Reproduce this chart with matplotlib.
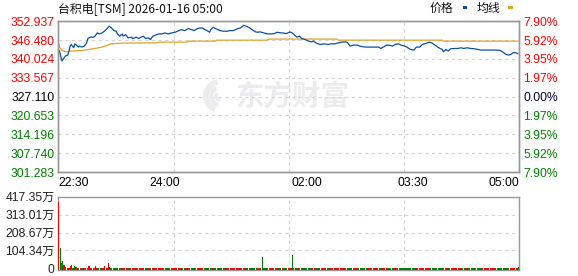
import matplotlib
matplotlib.use('Agg')
import matplotlib.pyplot as plt
from matplotlib.patches import Rectangle, Wedge
import numpy as np

plt.rcParams['font.family'] = ['Liberation Sans', 'Noto Sans CJK SC']

# minutes after 22:30 and the price read at that minute
price_min = [0, 1, 2, 3, 5, 6, 8, 9, 10, 11,
             13, 14, 16, 17, 18, 20, 22, 24, 25, 27,
             30, 31, 33, 35, 37, 39, 41, 43, 45, 47,
             49, 50, 52, 54, 55, 57, 59, 62, 63, 66,
             68, 70, 72, 74, 76, 78, 80, 82, 85, 88,
             90, 93, 96, 99, 102, 104, 107, 110, 113, 115,
             117, 120, 122, 124, 126, 128, 129, 131, 133, 135,
             137, 140, 143, 145, 148, 150, 152, 154, 157, 159,
             161, 164, 167, 168, 171, 174, 177, 180, 183, 185,
             188, 190, 193, 196, 198, 200, 202, 204, 206, 209,
             212, 214, 216, 218, 220, 222, 225, 228, 231, 234,
             237, 240, 243, 245, 247, 250, 253, 255, 258, 261,
             265, 268, 271, 273, 275, 278, 281, 283, 285, 288,
             290, 293, 295, 298, 301, 303, 306, 308, 311, 314,
             316, 318, 320, 323, 325, 326, 328, 330, 332, 335,
             338, 341, 343, 346, 349, 352, 355, 358, 362, 365,
             369, 371, 374, 377, 379, 381, 383, 385, 387, 389]
price_val = [343.29, 342.74, 341.04, 339.35, 340.47, 341.04, 341.38, 342.74, 344.44, 344.99,
             343.86, 345.22, 344.44, 344.10, 344.44, 344.10, 344.44, 345.56, 347.02, 347.50,
             347.50, 347.84, 348.96, 348.62, 348.96, 349.54, 350.32, 351.24, 350.66, 349.74,
             349.54, 348.62, 347.84, 348.62, 347.84, 348.38, 347.26, 347.50, 347.02, 347.50,
             347.02, 347.50, 347.84, 347.02, 347.26, 346.68, 347.84, 348.18, 348.62, 348.62,
             348.96, 348.62, 348.96, 349.20, 349.74, 350.08, 349.74, 350.42, 350.08, 349.74,
             350.32, 350.66, 350.66, 350.08, 349.74, 349.20, 350.08, 350.90, 350.42, 350.08,
             349.74, 349.54, 349.54, 349.74, 349.74, 350.08, 350.42, 350.66, 351.58, 351.24,
             350.90, 350.08, 349.30, 349.20, 349.30, 348.96, 348.62, 348.62, 348.72, 349.20,
             348.96, 348.96, 348.72, 349.30, 348.96, 348.18, 347.50, 347.84, 347.02, 346.68,
             346.14, 345.90, 346.14, 345.56, 345.22, 344.99, 345.22, 344.99, 345.22, 345.22,
             345.56, 345.80, 345.90, 345.56, 344.44, 344.78, 344.78, 344.44, 344.21, 344.10,
             344.10, 344.10, 344.10, 343.63, 344.10, 344.78, 344.65, 344.44, 344.99, 345.22,
             344.78, 344.44, 344.10, 343.29, 343.08, 344.10, 344.10, 344.99, 345.33, 345.80,
             345.56, 344.99, 344.44, 343.63, 343.29, 342.51, 343.29, 342.74, 343.53, 343.63,
             343.63, 343.86, 343.63, 343.86, 343.63, 343.53, 343.29, 343.08, 343.08, 343.08,
             343.08, 343.08, 342.95, 342.17, 341.59, 341.38, 341.59, 342.17, 342.17, 341.83]

# average price line
avg_min = [0, 1, 3, 6, 8, 11, 20, 25, 31, 37, 42, 45, 54,
           82, 86, 109, 110, 133, 134, 177, 178, 236, 237, 325, 326, 389]
avg_val = [345.90, 344.10, 342.95, 342.51, 342.51, 342.74, 342.95, 343.19, 343.63, 344.10, 344.78, 345.22, 345.46,
           345.56, 345.80, 345.80, 346.14, 346.14, 346.48, 346.48, 346.85, 346.85, 346.48, 346.48, 346.14, 346.14]

price_ticks = [352.937, 346.480, 340.024, 333.567, 327.110, 320.653, 314.196, 307.740, 301.283]
price_labels = ['352.937', '346.480', '340.024', '333.567', '327.110', '320.653', '314.196', '307.740', '301.283']
pct_labels = ['7.90%', '5.92%', '3.95%', '1.97%', '0.00%', '1.97%', '3.95%', '5.92%', '7.90%']
time_pos = [0, 90, 210, 300, 390]
time_labels = ['22:30', '24:00', '02:00', '03:30', '05:00']
vol_ticks = [0, 104.34, 208.67, 313.01, 417.35]
vol_labels = ['0', '104.34万', '208.67万', '313.01万', '417.35万']

# volume (万) - the visible spikes, everything else is a thin base
spike_min = [0, 1, 2, 3, 4, 5, 6, 10, 11, 13, 14, 15, 25, 26, 31, 39, 42, 43, 172, 198, 389]
spike_vol = [386, 119, 29, 42, 19, 19, 9, 13, 19, 15, 9, 9, 13, 13, 13, 13, 29, 9, 64, 77, 10]
spike_up = [1, 0, 0, 0, 1, 1, 0, 1, 1, 0, 1, 1, 1, 1, 1, 1, 1, 1, 0, 0, 0]
base_vol = 1.0

RED = '#ff0000'
GREEN = '#008000'
BLUE = '#0b4fa3'
GOLD = '#e0a526'
GRID = '#d4d4d4'
EDGE = '#999999'
MARK = '#ececee'

fig = plt.figure(figsize=(5.78, 2.76), dpi=100, facecolor='white')
ax = fig.add_axes([0.1009, 0.3768, 0.7972, 0.546])
axv = fig.add_axes([0.1009, 0.0217, 0.7972, 0.2656])

# watermark: rough logo swoosh + name (inches, so arcs stay round)
for r0, w, t1, t2 in [(0.17, 0.055, 100, 250), (0.11, 0.045, 115, 260), (0.055, 0.035, 130, 280)]:
    fig.patches.append(Wedge((2.20, 2.76 - 0.96), r0, t1, t2, width=w,
                             transform=fig.dpi_scale_trans, color=MARK, lw=0, zorder=0))
ax.text(0.507, 0.50, '东方财富', transform=ax.transAxes, ha='center', va='center',
        fontsize=20.5, fontweight='bold', color=MARK, family=['Noto Sans CJK SC'], zorder=0)

ax.plot(price_min, price_val, color=BLUE, lw=0.9, zorder=3)
ax.plot(avg_min, avg_val, color=GOLD, lw=0.9, zorder=2)

ax.set_xlim(0, 390)
ax.set_ylim(price_ticks[-1], price_ticks[0])
ax.patch.set_alpha(0)
for y in price_ticks[1:-1]:
    ax.axhline(y, color=GRID, lw=0.8, ls=(0, (3, 3)), zorder=1)
for x in [97.5, 195, 292.5]:
    ax.axvline(x, color=GRID, lw=0.8, ls=(0, (3, 3)), zorder=1)
    axv.axvline(x, color=GRID, lw=0.8, ls=(0, (3, 3)), zorder=1)

ax.set_yticks(price_ticks)
ax.set_yticklabels(price_labels)
ax.set_xticks(time_pos)
ax.set_xticklabels(time_labels)
ax.tick_params(axis='y', length=0, pad=2.5, labelsize=8.7)
ax.tick_params(axis='x', length=0, pad=3.5, labelsize=8.7)
xl = ax.get_xticklabels()
xl[0].set_ha('left')
xl[-1].set_ha('right')
mid = len(price_ticks) // 2
for i, lab in enumerate(ax.get_yticklabels()):
    lab.set_color(RED if i < mid else ('#000000' if i == mid else GREEN))

axr = ax.twinx()
axr.set_ylim(ax.get_ylim())
axr.set_yticks(price_ticks)
axr.set_yticklabels(pct_labels)
axr.tick_params(axis='y', length=0, pad=3, labelsize=8.7)
for i, lab in enumerate(axr.get_yticklabels()):
    lab.set_color(RED if i < mid else ('#000033' if i == mid else GREEN))

for a in (ax, axr, axv):
    for s in a.spines.values():
        s.set_color(EDGE)
        s.set_linewidth(1.0)

# volume bars
vol = np.full(391, base_vol)
up = np.zeros(391, dtype=bool)
minutes = np.arange(391)
seg = np.clip(np.searchsorted(price_min, minutes), 1, len(price_min) - 1)
pv = np.array(price_val)
up[:] = pv[seg] >= pv[seg - 1]
for m, v, u in zip(spike_min, spike_vol, spike_up):
    vol[m] = v
    up[m] = bool(u)
floor = -10
colors = [RED if u else GREEN for u in up]
axv.bar(minutes, vol - floor, bottom=floor, width=0.85, align='edge', color=colors, lw=0, zorder=3)
axv.set_xlim(0, 390)
axv.set_ylim(floor, vol_ticks[-1])
for y in vol_ticks[1:-1]:
    axv.axhline(y, color=GRID, lw=0.8, ls=(0, (3, 3)), zorder=1)
axv.set_yticks(vol_ticks)
axv.set_yticklabels(vol_labels)
axv.set_xticks([])
axv.tick_params(axis='y', length=0, pad=2.5, labelsize=8.7, labelcolor='#222222')

# title and legend
fig.text(58 / 578, 1 - 8.5 / 276, '台积电[TSM] 2026-01-16 05:00', ha='left', va='center',
         fontsize=8.6, family=['Noto Sans CJK SC', 'DejaVu Sans'], color='#111111')
fig.text(453 / 578, 1 - 8.5 / 276, '价格', ha='right', va='center', fontsize=8.6,
         family=['Noto Sans CJK SC'], color='#111111')
fig.patches.append(Rectangle((462.5 / 578, 1 - 9 / 276), 4 / 578, 3 / 276,
                             transform=fig.transFigure, color=BLUE, lw=0))
fig.text(500 / 578, 1 - 8.5 / 276, '均线', ha='right', va='center', fontsize=8.6,
         family=['Noto Sans CJK SC'], color='#111111')
fig.patches.append(Rectangle((508 / 578, 1 - 9 / 276), 5 / 578, 3 / 276,
                             transform=fig.transFigure, color=GOLD, lw=0))

fig.savefig('out.png', dpi=100, facecolor='white')
